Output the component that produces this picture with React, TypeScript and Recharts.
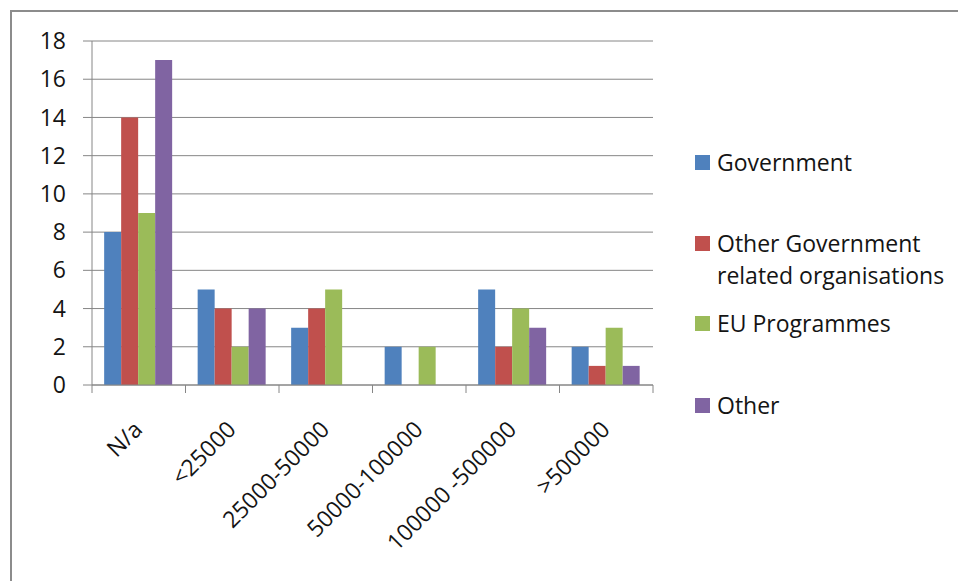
import React from 'react';
import { BarChart, Bar, XAxis, YAxis, CartesianGrid, Legend } from 'recharts';

const categories = ['N/a', '<25000', '25000-50000', '50000-100000', '100000 -500000', '>500000'];
const government = [8, 5, 3, 2, 5, 2];
const otherGovernment = [14, 4, 4, 0, 2, 1];
const euProgrammes = [9, 2, 5, 2, 4, 3];
const other = [17, 4, 0, 0, 3, 1];
const yTicks = [0, 2, 4, 6, 8, 10, 12, 14, 16, 18];

const seriesNames = ['Government', 'Other Government related organisations', 'EU Programmes', 'Other'];
const seriesKeys = ['gov', 'otherGov', 'eu', 'other'];
const seriesColors = ['#4F81BD', '#C0504D', '#9BBB59', '#8064A2'];

const data = categories.map((c, i) => ({
  name: c,
  gov: government[i],
  otherGov: otherGovernment[i],
  eu: euProgrammes[i],
  other: other[i],
}));

const FONT = '"Open Sans", "Noto Sans", sans-serif';
const GRID = '#868686';
const TEXT = '#141414';

const XTick = (props: any) => {
  const { x, y, payload, index, visibleTicksCount } = props;
  const half = payload && typeof payload.offset === 'number' && payload.offset > 0 ? payload.offset : 46.75;
  const tx = x + 5;
  const ty = y + 46;
  return (
    <g>
      <line x1={x - half} y1={y} x2={x - half} y2={y + 8} stroke={GRID} strokeWidth={1} />
      {index === visibleTicksCount - 1 && (
        <line x1={x + half} y1={y} x2={x + half} y2={y + 8} stroke={GRID} strokeWidth={1} />
      )}
      <text
        x={tx}
        y={ty}
        textAnchor="end"
        transform={`rotate(-45 ${tx} ${ty})`}
        fontFamily={FONT}
        fontSize={23}
        fill={TEXT}
      >
        {payload.value}
      </text>
    </g>
  );
};

const itemGaps = [0, 49, 16, 50];

const LegendContent = () => (
  <div style={{ fontFamily: FONT, fontSize: 23, color: TEXT, lineHeight: '32px', textAlign: 'left' }}>
    {seriesNames.map((n, i) => (
      <div key={n} style={{ display: 'flex', alignItems: 'flex-start', marginTop: itemGaps[i] }}>
        <div style={{ width: 15, height: 15, background: seriesColors[i], marginTop: 9, marginRight: 7, flex: 'none' }} />
        <div style={{ width: 240, whiteSpace: 'normal' }}>{n}</div>
      </div>
    ))}
  </div>
);

export default function App() {
  return (
    <div style={{ position: 'fixed', left: 0, top: 0, width: 958, height: 581, background: '#fff', overflow: 'hidden' }}>
      <div
        style={{
          position: 'absolute',
          left: 10,
          top: 10,
          width: 1000,
          height: 700,
          borderLeft: '2px solid #8c8c8c',
          borderTop: '2px solid #8c8c8c',
        }}
      />
      <div style={{ position: 'absolute', left: 0, top: 0 }}>
        <BarChart
          width={958}
          height={581}
          data={data}
          margin={{ top: 41, right: 305, bottom: 46, left: 0 }}
          barCategoryGap="13%"
          barGap={0}
        >
          <CartesianGrid vertical={false} stroke={GRID} strokeWidth={1} />
          <XAxis
            dataKey="name"
            interval={0}
            height={150}
            tickLine={false}
            tickSize={0}
            tickMargin={0}
            axisLine={{ stroke: GRID }}
            tick={<XTick />}
          />
          <YAxis
            width={92}
            domain={[0, 18]}
            ticks={yTicks}
            interval={0}
            tickSize={9}
            tickMargin={17}
            axisLine={{ stroke: GRID }}
            tickLine={{ stroke: GRID }}
            tick={{ fontFamily: FONT, fontSize: 23, fill: TEXT }}
          />
          <Legend
            layout="horizontal"
            verticalAlign="middle"
            align="center"
            content={<LegendContent />}
            wrapperStyle={{ left: 695, top: 146, width: 262 }}
          />
          {seriesKeys.map((k, i) => (
            <Bar key={k} dataKey={k} name={seriesNames[i]} fill={seriesColors[i]} isAnimationActive={false} />
          ))}
        </BarChart>
      </div>
    </div>
  );
}
